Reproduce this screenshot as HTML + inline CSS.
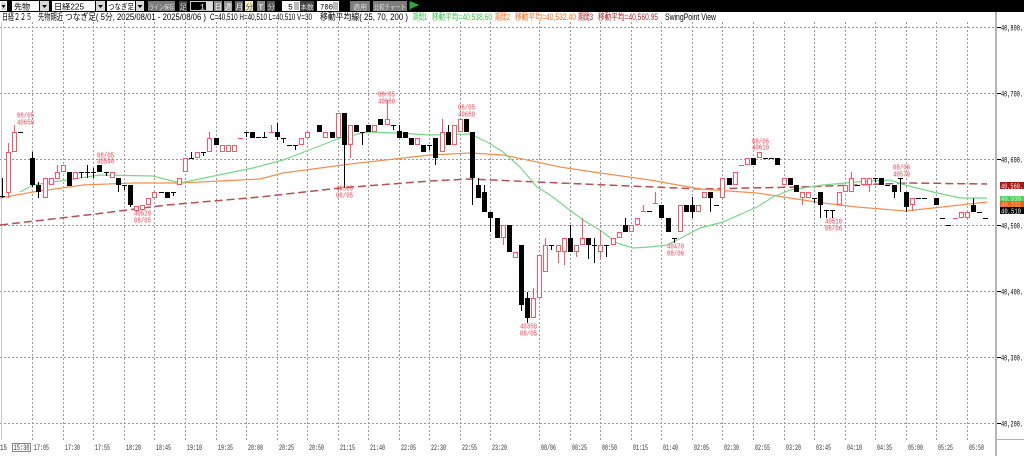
<!DOCTYPE html>
<html><head><meta charset="utf-8">
<style>
html,body{margin:0;padding:0;background:#fff;}
svg{display:block;}
.j{font-family:"Liberation Sans","Noto Sans CJK JP",sans-serif;}
.m{font-family:"Liberation Mono","Noto Sans CJK JP",monospace;}
</style></head>
<body>
<svg width="1024" height="456" viewBox="0 0 1024 456" xmlns="http://www.w3.org/2000/svg">
<rect width="1024" height="456" fill="#fff"/>
<!-- toolbar -->
<rect x="0" y="0" width="1024" height="12" fill="#000"/>
<rect x="0.5" y="1.5" width="6" height="9" fill="#d8d8d8" stroke="#fff"/>
<path d="M1.5 5h4l-2 3z" fill="#000"/>
<rect x="12" y="1" width="27" height="10" fill="#fff"/>
<text x="14" y="9.5" font-size="8" class="j" fill="#000">先物</text>
<rect x="40" y="1" width="9" height="10" fill="#d8d8d8"/><path d="M42 5h5l-2.5 3z" fill="#000"/>
<rect x="52" y="1" width="43" height="10" fill="#fff"/>
<text x="54" y="9.5" font-size="8" class="j" fill="#000" textLength="30" lengthAdjust="spacingAndGlyphs">日経225</text>
<rect x="96" y="1" width="9" height="10" fill="#d8d8d8"/><path d="M98 5h5l-2.5 3z" fill="#000"/>
<rect x="107" y="1" width="28" height="10" fill="#fff"/>
<text x="108" y="9.5" font-size="8" class="j" fill="#000" textLength="26" lengthAdjust="spacingAndGlyphs">つなぎ足</text>
<rect x="136" y="1" width="8" height="10" fill="#d8d8d8"/><path d="M137.5 5h5l-2.5 3z" fill="#000"/>
<rect x="148" y="1" width="27" height="10" fill="#7c7c7c"/>
<text x="149" y="9.5" font-size="7" class="j" fill="#ddd" textLength="25" lengthAdjust="spacingAndGlyphs">ライン保存</text>
<rect x="179" y="1" width="8" height="10" fill="#444"/>
<text x="179.5" y="9.5" font-size="7.5" class="j" fill="#ddd">足</text>
<rect x="190.5" y="1.5" width="22" height="9" fill="#000" stroke="#ccc"/>
<text x="200" y="9.5" font-size="8" class="m" fill="#fff">1</text>
<rect x="206" y="2" width="6" height="8" fill="#ddd"/>
<rect x="214" y="1" width="8" height="10" fill="#8c8c8c"/><text x="214.5" y="9.5" font-size="7.5" class="j" fill="#fff">日</text>
<rect x="224" y="1" width="8" height="10" fill="#8c8c8c"/><text x="224.5" y="9.5" font-size="7.5" class="j" fill="#fff">週</text>
<rect x="235" y="1" width="8" height="10" fill="#6a6a6a"/><text x="235.5" y="9.5" font-size="7.5" class="j" fill="#fff">月</text>
<rect x="245" y="1" width="8" height="10" fill="#f4f0b8"/><text x="245.5" y="9.5" font-size="7.5" class="j" fill="#444">分</text>
<rect x="257" y="1" width="8" height="10" fill="#8c8c8c"/><text x="258.5" y="9.5" font-size="7.5" class="j" fill="#fff">T</text>
<rect x="267" y="1" width="8" height="10" fill="#555"/><text x="267.5" y="9.5" font-size="7.5" class="j" fill="#ccc">分</text>
<rect x="282" y="1" width="18" height="10" fill="#fff"/>
<text x="288" y="9.5" font-size="8" class="m" fill="#000">5</text>
<rect x="294" y="2" width="5" height="8" fill="#bbb"/>
<rect x="300" y="1" width="14" height="10" fill="#444"/>
<text x="300.5" y="9.5" font-size="7" class="j" fill="#ddd" textLength="13" lengthAdjust="spacingAndGlyphs">本数</text>
<rect x="317" y="1" width="22" height="10" fill="#fff"/>
<text x="320" y="9.5" font-size="8" class="m" fill="#000" textLength="13" lengthAdjust="spacingAndGlyphs">700</text>
<rect x="333" y="2" width="5" height="8" fill="#bbb"/>
<rect x="350" y="1" width="20" height="10" fill="#7c7c7c"/>
<text x="353" y="9.5" font-size="7" class="j" fill="#ddd" textLength="14" lengthAdjust="spacingAndGlyphs">適用</text>
<rect x="373" y="1" width="34" height="10" fill="#7c7c7c"/>
<text x="374" y="9.5" font-size="7" class="j" fill="#ddd" textLength="32" lengthAdjust="spacingAndGlyphs">比較チャート</text>
<path d="M410 1.5v9M411 2l7 3-7 3z" fill="#2aa83a" stroke="#2aa83a"/>

<!-- header text -->
<g font-size="9" class="j">
<text x="2" y="20" textLength="30" lengthAdjust="spacingAndGlyphs" fill="#000">日経２２５</text>
<text x="38" y="20" textLength="25" lengthAdjust="spacingAndGlyphs" fill="#000">先物期近</text>
<text x="65" y="20" textLength="141" lengthAdjust="spacingAndGlyphs" fill="#000">つなぎ足( 5分, 2025/08/01 - 2025/08/06 )</text>
<text x="210" y="20" textLength="102" lengthAdjust="spacingAndGlyphs" fill="#000">C=40,510 H=40,510 L=40,510 V=30</text>
<text x="320" y="20" textLength="88" lengthAdjust="spacingAndGlyphs" fill="#000">移動平均線( 25, 70, 200 )</text>
<text x="413" y="20" textLength="14" lengthAdjust="spacingAndGlyphs" fill="#3cc84a">期間1</text>
<text x="432" y="20" textLength="60" lengthAdjust="spacingAndGlyphs" fill="#3cc84a">移動平均=40,538.60</text>
<text x="495" y="20" textLength="15" lengthAdjust="spacingAndGlyphs" fill="#f07020">期間2</text>
<text x="515" y="20" textLength="61" lengthAdjust="spacingAndGlyphs" fill="#f07020">移動平均=40,532.40</text>
<text x="578" y="20" textLength="15" lengthAdjust="spacingAndGlyphs" fill="#b02828">期間3</text>
<text x="598" y="20" textLength="60" lengthAdjust="spacingAndGlyphs" fill="#b02828">移動平均=40,560.95</text>
<text x="665" y="20" textLength="51" lengthAdjust="spacingAndGlyphs" fill="#000">SwingPoint View</text>
</g>

<!-- grid -->
<g stroke="#9a9a9a" stroke-width="1" stroke-dasharray="2 2" fill="none">
<path d="M0 27.5H995M0 93.5H995M0 159.5H995M0 225.5H995M0 291.5H995M0 357.5H995M0 423.5H995"/>
<path d="M32.5 22V440M63.5 22V440M93.5 22V440M124.5 22V440M154.5 22V440M185.5 22V440M216.5 22V440M246.5 22V440M277.5 22V440M307.5 22V440M338.5 22V440M368.5 22V440M399.5 22V440M429.5 22V440M460.5 22V440M490.5 22V440M539.5 22V440M570.5 22V440M600.5 22V440M631.5 22V440M661.5 22V440M692.5 22V440M722.5 22V440M753.5 22V440M784.5 22V440M814.5 22V440M845.5 22V440M875.5 22V440M906.5 22V440M936.5 22V440M967.5 22V440"/>
</g>
<path d="M1.5 22V440" stroke="#c8c8c8" stroke-width="1"/>

<!-- moving averages -->
<polyline fill="none" stroke="#b85050" stroke-width="1.5" stroke-dasharray="8 4" points="0,225 87,215 167,205 260,197 340,188 430,181 470,179 560,183 700,189 800,187 910,183 987,184"/>
<polyline fill="none" stroke="#f29050" stroke-width="1.2" points="0,198 33,192 83,185 133,183 180,183 260,179 283,173 350,164 430,155 470,153 503,155 537,162 560,167 600,173 650,180 700,189 757,193 790,198 823,203 857,207 905,211 933,208 960,205 987,202"/>
<polyline fill="none" stroke="#78d888" stroke-width="1.2" points="20,192 33,185 100,175 153,176 180,183 253,168 283,160 317,147 340,138 367,132 397,133 430,135 470,134 487,142 503,152 520,167 537,187 550,195 567,208 583,220 600,230 617,243 633,248 650,247 667,245 683,237 700,228 723,222 757,207 773,197 790,190 823,185 857,182 890,180 905,185 933,192 960,198 987,198"/>

<!-- pink wicks & dojis -->
<path fill="none" stroke="#ff5566" stroke-width="1" d="M8.5 143V198M14.5 125V152M57.5 165V179M136.5 206V212M209.5 132V152M350.5 125V158M387.5 100V125M442.5 119V152M503.5 225V245M533.5 288V318M545.5 238V272M558.5 245V263M564.5 238V265M576.5 245V257M582.5 218V245M600.5 230V258M802.5 192V205M851.5 172V192M869.5 178V192M912.5 198V211
M238 138.5h5M269 132.5h5M271.5 125V132M641 211.5h5M643.5 205V211M653 203.5h5M655.5 192V203M739 165.5h5M953 218.5h5"/>
<!-- hollow bodies -->
<g fill="#fff" stroke="#ff5566" stroke-width="1">
<rect x="6.5" y="152.5" width="4" height="40"/><rect x="12.5" y="132.5" width="4" height="19"/><rect x="43.5" y="178.5" width="4" height="19"/><rect x="49.5" y="178.5" width="4" height="6"/><rect x="55.5" y="172.5" width="4" height="6"/><rect x="61.5" y="165.5" width="4" height="6"/><rect x="73.5" y="172.5" width="4" height="6"/><rect x="110.5" y="172.5" width="4" height="5"/><rect x="134.5" y="206.5" width="4" height="4"/><rect x="140.5" y="205.5" width="4" height="4"/><rect x="146.5" y="198.5" width="4" height="6"/><rect x="152.5" y="192.5" width="4" height="5"/><rect x="177.5" y="178.5" width="4" height="6"/><rect x="183.5" y="158.5" width="4" height="13"/><rect x="195.5" y="152.5" width="4" height="5"/><rect x="207.5" y="138.5" width="4" height="13"/><rect x="220.5" y="145.5" width="4" height="6"/><rect x="226.5" y="145.5" width="4" height="6"/><rect x="232.5" y="145.5" width="4" height="6"/><rect x="299.5" y="138.5" width="4" height="6"/><rect x="305.5" y="132.5" width="4" height="5"/><rect x="323.5" y="132.5" width="4" height="5"/><rect x="336.5" y="113.5" width="4" height="24"/><rect x="348.5" y="125.5" width="4" height="19"/><rect x="372.5" y="125.5" width="4" height="6"/><rect x="385.5" y="119.5" width="4" height="5"/><rect x="415.5" y="138.5" width="4" height="6"/><rect x="440.5" y="132.5" width="4" height="19"/><rect x="452.5" y="125.5" width="4" height="19"/><rect x="458.5" y="119.5" width="4" height="12"/><rect x="501.5" y="225.5" width="4" height="12"/><rect x="513.5" y="252.5" width="4" height="5"/><rect x="531.5" y="298.5" width="4" height="19"/><rect x="537.5" y="255.5" width="4" height="42"/><rect x="543.5" y="245.5" width="4" height="26"/><rect x="556.5" y="245.5" width="4" height="6"/><rect x="562.5" y="238.5" width="4" height="13"/><rect x="574.5" y="245.5" width="4" height="6"/><rect x="580.5" y="238.5" width="4" height="6"/><rect x="598.5" y="245.5" width="4" height="6"/><rect x="611.5" y="238.5" width="4" height="6"/><rect x="617.5" y="232.5" width="4" height="5"/><rect x="629.5" y="225.5" width="4" height="6"/><rect x="635.5" y="218.5" width="4" height="6"/><rect x="678.5" y="205.5" width="4" height="26"/><rect x="696.5" y="205.5" width="4" height="6"/><rect x="702.5" y="192.5" width="4" height="5"/><rect x="720.5" y="178.5" width="4" height="19"/><rect x="733.5" y="172.5" width="4" height="12"/><rect x="745.5" y="158.5" width="4" height="6"/><rect x="757.5" y="152.5" width="4" height="5"/><rect x="782.5" y="178.5" width="4" height="6"/><rect x="800.5" y="192.5" width="4" height="5"/><rect x="806.5" y="192.5" width="4" height="5"/><rect x="837.5" y="192.5" width="4" height="12"/><rect x="843.5" y="185.5" width="4" height="6"/><rect x="849.5" y="178.5" width="4" height="13"/><rect x="861.5" y="178.5" width="4" height="6"/><rect x="867.5" y="178.5" width="4" height="6"/><rect x="910.5" y="198.5" width="4" height="6"/><rect x="959.5" y="212.5" width="4" height="5"/><rect x="965.5" y="212.5" width="4" height="5"/>
</g>
<!-- dark wicks & dojis -->
<path fill="none" stroke="#000" stroke-width="1" d="M32.5 152V187M38.5 182V198M118.5 178V192M130.5 185V207M277.5 123V140M344.5 113V188M399.5 125V138M435.5 138V165M448.5 125V145M472.5 132V205M478.5 178V198M484.5 185V212M490.5 212V232M521.5 245V311M527.5 292V323M570.5 225V252M588.5 238V259M625.5 218V232M692.5 197V218M710.5 192V212M820.5 192V218M894.5 185V198M906.5 192V212M973.5 198V212
M0 196.5h5M2.5 178V198M18 132.5h5M79 172.5h5M81.5 172V178M85 172.5h5M87.5 165V178M91 172.5h5M93.5 168V178M104 172.5h5M106.5 172V176M122 185.5h5M124.5 185V190M159 192.5h5M171 192.5h5M173.5 192V196M189 158.5h5M191.5 152V158M201 152.5h5M203.5 152V156M244 132.5h5M246.5 132V137M256 137.5h5M262 137.5h5M264.5 132V137M281 138.5h5M283.5 138V143M287 145.5h5M293 145.5h5M295.5 145V150M360 132.5h5M362.5 132V145M391 125.5h5M393.5 125V130M427 145.5h5M429.5 145V150M549 245.5h5M551.5 245V250M592 245.5h5M594.5 238V263M604 245.5h5M606.5 245V257M647 211.5h5M672 238.5h5M674.5 238V243M714 205.5h5M763 158.5h5M769 158.5h5M812 198.5h5M814.5 198V203M824 210.5h5M826.5 210V218M830 210.5h5M832.5 210V218M855 185.5h5M873 178.5h5M875.5 178V182M885 185.5h5M898 178.5h5M900.5 178V192M916 198.5h5M922 198.5h5M940 218.5h5M946 225.5h5M977 212.5h5M983 218.5h5"/>
<!-- dark bodies -->
<g fill="#000">
<rect x="30" y="158" width="5" height="27"/><rect x="36" y="185" width="5" height="7"/><rect x="67" y="172" width="5" height="14"/><rect x="97" y="165" width="5" height="7"/><rect x="116" y="178" width="5" height="7"/><rect x="128" y="185" width="5" height="20"/><rect x="165" y="192" width="5" height="6"/><rect x="214" y="138" width="5" height="7"/><rect x="250" y="132" width="5" height="6"/><rect x="275" y="132" width="5" height="5"/><rect x="317" y="125" width="5" height="7"/><rect x="330" y="132" width="5" height="6"/><rect x="342" y="113" width="5" height="32"/><rect x="354" y="125" width="5" height="7"/><rect x="366" y="125" width="5" height="7"/><rect x="378" y="119" width="5" height="6"/><rect x="397" y="131" width="5" height="7"/><rect x="403" y="132" width="5" height="6"/><rect x="409" y="138" width="5" height="7"/><rect x="421" y="145" width="5" height="7"/><rect x="433" y="138" width="5" height="20"/><rect x="446" y="132" width="5" height="13"/><rect x="464" y="119" width="5" height="13"/><rect x="470" y="132" width="5" height="46"/><rect x="476" y="185" width="5" height="13"/><rect x="482" y="192" width="5" height="20"/><rect x="488" y="212" width="5" height="6"/><rect x="495" y="218" width="5" height="20"/><rect x="507" y="225" width="5" height="27"/><rect x="519" y="245" width="5" height="60"/><rect x="525" y="298" width="5" height="20"/><rect x="568" y="238" width="5" height="14"/><rect x="586" y="238" width="5" height="7"/><rect x="623" y="225" width="5" height="7"/><rect x="659" y="205" width="5" height="13"/><rect x="666" y="218" width="5" height="14"/><rect x="684" y="205" width="5" height="7"/><rect x="690" y="205" width="5" height="7"/><rect x="708" y="192" width="5" height="6"/><rect x="727" y="178" width="5" height="7"/><rect x="751" y="158" width="5" height="7"/><rect x="775" y="158" width="5" height="7"/><rect x="788" y="178" width="5" height="7"/><rect x="794" y="185" width="5" height="7"/><rect x="818" y="192" width="5" height="13"/><rect x="879" y="178" width="5" height="7"/><rect x="892" y="185" width="5" height="7"/><rect x="904" y="192" width="5" height="15"/><rect x="934" y="198" width="5" height="7"/><rect x="971" y="205" width="5" height="7"/>
</g>

<!-- swing point labels -->
<g font-size="7" class="m" fill="#ff3848">
<text x="17" y="117.5" textLength="17" lengthAdjust="spacingAndGlyphs">08/05</text><text x="17" y="124.5" textLength="17" lengthAdjust="spacingAndGlyphs">40650</text>
<text x="97" y="157.5" textLength="17" lengthAdjust="spacingAndGlyphs">08/05</text><text x="97" y="163.5" textLength="17" lengthAdjust="spacingAndGlyphs">40590</text>
<text x="134" y="215.5" textLength="17" lengthAdjust="spacingAndGlyphs">40520</text><text x="134" y="222.5" textLength="17" lengthAdjust="spacingAndGlyphs">08/05</text>
<text x="378" y="96.5" textLength="17" lengthAdjust="spacingAndGlyphs">08/05</text><text x="378" y="103.5" textLength="17" lengthAdjust="spacingAndGlyphs">40680</text>
<text x="336" y="190.5" textLength="17" lengthAdjust="spacingAndGlyphs">40560</text><text x="336" y="197.5" textLength="17" lengthAdjust="spacingAndGlyphs">08/05</text>
<text x="458" y="109.5" textLength="17" lengthAdjust="spacingAndGlyphs">08/05</text><text x="458" y="116.5" textLength="17" lengthAdjust="spacingAndGlyphs">40680</text>
<text x="520" y="328.5" textLength="17" lengthAdjust="spacingAndGlyphs">40350</text><text x="520" y="335.5" textLength="17" lengthAdjust="spacingAndGlyphs">08/05</text>
<text x="667" y="248.5" textLength="17" lengthAdjust="spacingAndGlyphs">40470</text><text x="667" y="255.5" textLength="17" lengthAdjust="spacingAndGlyphs">08/06</text>
<text x="752" y="143.5" textLength="17" lengthAdjust="spacingAndGlyphs">08/06</text><text x="752" y="149.5" textLength="17" lengthAdjust="spacingAndGlyphs">40610</text>
<text x="825" y="223.5" textLength="17" lengthAdjust="spacingAndGlyphs">40510</text><text x="825" y="230.5" textLength="17" lengthAdjust="spacingAndGlyphs">08/06</text>
<text x="893" y="169.5" textLength="17" lengthAdjust="spacingAndGlyphs">08/06</text><text x="893" y="176.5" textLength="17" lengthAdjust="spacingAndGlyphs">40570</text>
</g>

<!-- right axis -->
<rect x="997" y="12" width="27" height="444" fill="#fff"/>
<rect x="995" y="12" width="2" height="444" fill="#b4b4b4"/>
<path d="M995 439.5H1024" stroke="#b4b4b4"/>
<path d="M997 27.5h4M997 93.5h4M997 159.5h4M997 225.5h4M997 291.5h4M997 357.5h4M997 423.5h4" stroke="#000"/>
<g font-size="8" class="m" fill="#000">
<text x="1001" y="30.5" textLength="22" lengthAdjust="spacingAndGlyphs">40,800.</text>
<text x="1001" y="96.5" textLength="22" lengthAdjust="spacingAndGlyphs">40,700.</text>
<text x="1001" y="162.5" textLength="22" lengthAdjust="spacingAndGlyphs">40,600.</text>
<text x="1001" y="228.5" textLength="22" lengthAdjust="spacingAndGlyphs">40,500.</text>
<text x="1001" y="294.5" textLength="22" lengthAdjust="spacingAndGlyphs">40,400.</text>
<text x="1001" y="360.5" textLength="22" lengthAdjust="spacingAndGlyphs">40,300.</text>
<text x="1001" y="426.5" textLength="22" lengthAdjust="spacingAndGlyphs">40,200.</text>
</g>
<rect x="1000" y="182" width="24" height="7" fill="#a51818"/>
<text x="1001" y="188.3" font-size="7.5" class="m" fill="#fff" textLength="22" lengthAdjust="spacingAndGlyphs">40,560.</text>
<rect x="1000" y="196" width="24" height="5" fill="#52d064"/>
<text x="1001" y="200.8" font-size="6" class="m" fill="#c8f5cf" textLength="20" lengthAdjust="spacingAndGlyphs">40,539</text>
<rect x="1000" y="201" width="24" height="6" fill="#f0620c"/>
<text x="1001" y="206.5" font-size="6.5" class="m" fill="#fbc9a6" textLength="20" lengthAdjust="spacingAndGlyphs">40,532</text>
<rect x="1000" y="207" width="24" height="7" fill="#000"/>
<text x="1001" y="213.3" font-size="7.5" class="m" fill="#fff" textLength="20" lengthAdjust="spacingAndGlyphs">40,510</text>

<!-- time axis -->
<text x="0" y="450" font-size="8" class="m" fill="#333" textLength="7" lengthAdjust="spacingAndGlyphs">15</text>
<rect x="12.5" y="443.5" width="18" height="8" fill="#fff" stroke="#888"/>
<g font-size="8" class="m" fill="#333">
<text x="13.5" y="450" textLength="16" lengthAdjust="spacingAndGlyphs">15:30</text>
<text x="34" y="450" textLength="15" lengthAdjust="spacingAndGlyphs">17:05</text>
<text x="65" y="450" textLength="15" lengthAdjust="spacingAndGlyphs">17:30</text>
<text x="95" y="450" textLength="15" lengthAdjust="spacingAndGlyphs">17:55</text>
<text x="126" y="450" textLength="15" lengthAdjust="spacingAndGlyphs">18:20</text>
<text x="156" y="450" textLength="15" lengthAdjust="spacingAndGlyphs">18:45</text>
<text x="187" y="450" textLength="15" lengthAdjust="spacingAndGlyphs">19:10</text>
<text x="218" y="450" textLength="15" lengthAdjust="spacingAndGlyphs">19:35</text>
<text x="248" y="450" textLength="15" lengthAdjust="spacingAndGlyphs">20:00</text>
<text x="279" y="450" textLength="15" lengthAdjust="spacingAndGlyphs">20:25</text>
<text x="309" y="450" textLength="15" lengthAdjust="spacingAndGlyphs">20:50</text>
<text x="340" y="450" textLength="15" lengthAdjust="spacingAndGlyphs">21:15</text>
<text x="370" y="450" textLength="15" lengthAdjust="spacingAndGlyphs">21:40</text>
<text x="401" y="450" textLength="15" lengthAdjust="spacingAndGlyphs">22:05</text>
<text x="431" y="450" textLength="15" lengthAdjust="spacingAndGlyphs">22:30</text>
<text x="462" y="450" textLength="15" lengthAdjust="spacingAndGlyphs">22:55</text>
<text x="492" y="450" textLength="15" lengthAdjust="spacingAndGlyphs">23:20</text>
<text x="541" y="450" textLength="15" lengthAdjust="spacingAndGlyphs">08/06</text>
<text x="572" y="450" textLength="15" lengthAdjust="spacingAndGlyphs">00:25</text>
<text x="602" y="450" textLength="15" lengthAdjust="spacingAndGlyphs">00:50</text>
<text x="633" y="450" textLength="15" lengthAdjust="spacingAndGlyphs">01:15</text>
<text x="663" y="450" textLength="15" lengthAdjust="spacingAndGlyphs">01:40</text>
<text x="694" y="450" textLength="15" lengthAdjust="spacingAndGlyphs">02:05</text>
<text x="724" y="450" textLength="15" lengthAdjust="spacingAndGlyphs">02:30</text>
<text x="755" y="450" textLength="15" lengthAdjust="spacingAndGlyphs">02:55</text>
<text x="786" y="450" textLength="15" lengthAdjust="spacingAndGlyphs">03:20</text>
<text x="816" y="450" textLength="15" lengthAdjust="spacingAndGlyphs">03:45</text>
<text x="847" y="450" textLength="15" lengthAdjust="spacingAndGlyphs">04:10</text>
<text x="877" y="450" textLength="15" lengthAdjust="spacingAndGlyphs">04:35</text>
<text x="908" y="450" textLength="15" lengthAdjust="spacingAndGlyphs">05:00</text>
<text x="938" y="450" textLength="15" lengthAdjust="spacingAndGlyphs">05:25</text>
<text x="969" y="450" textLength="15" lengthAdjust="spacingAndGlyphs">05:50</text>
</g>
</svg>
</body></html>
